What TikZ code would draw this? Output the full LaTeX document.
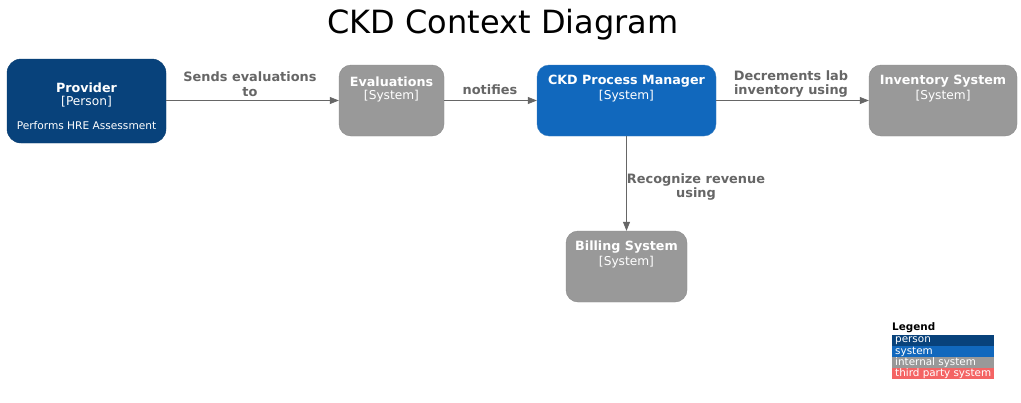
\documentclass[tikz,border=0pt]{standalone}
\usepackage{fontspec}
\setmainfont{DejaVu Sans}
\usetikzlibrary{arrows.meta, calc, positioning}
\definecolor{personblue}{HTML}{08427B}
\definecolor{personline}{HTML}{073B6F}
\definecolor{sysblue}{HTML}{1168BD}
\definecolor{sysline}{HTML}{3C7FC0}
\definecolor{intgray}{HTML}{999999}
\definecolor{intline}{HTML}{8A8A8A}
\definecolor{thirdred}{HTML}{F46464}
\definecolor{relgray}{HTML}{666666}
\tikzset{
  personbox/.style={draw=personline, fill=personblue, rounded corners=14pt, minimum width=159pt, minimum height=84pt, inner sep=0pt},
  sysbox/.style={draw=sysline, fill=sysblue, rounded corners=12pt, minimum height=71pt, inner sep=0pt},
  intbox/.style={draw=intline, fill=intgray, rounded corners=12pt, minimum height=71pt, inner sep=0pt},
  boxtitle/.style={text=white, font=\fontsize{12.7}{14}\selectfont\bfseries, inner sep=0pt},
  boxtype/.style={text=white, font=\fontsize{12.2}{14}\selectfont, inner sep=0pt},
  boxnote/.style={text=white, font=\fontsize{10.6}{12}\selectfont, inner sep=0pt},
  rel/.style={draw=relgray, line width=0.8pt, -{Triangle[length=9pt,width=7pt]}},
  rellabel/.style={text=relgray, font=\fontsize{12.9}{14.5}\selectfont\bfseries, align=center, inner sep=0pt},
  legendbar/.style={anchor=north west, minimum width=102pt, minimum height=10.5pt, inner sep=0pt},
  legendtext/.style={text=white, font=\fontsize{10.4}{10}\selectfont, anchor=west, inner sep=0pt}
}
\begin{document}
\begin{tikzpicture}[x=1pt, y=-1pt]
  \useasboundingbox[fill=white] (0,0) rectangle (1021,402);
  % title
  \node[font=\fontsize{32}{34}\selectfont] (title) at (503,25) {CKD Context Diagram};

  % boxes
  \node[personbox] (provider) at (86.5,101) {};
  \node[intbox, minimum width=105pt] (evals) at (391.5,100.5) {};
  \node[sysbox, minimum width=179pt] (ckd) at (626.5,100.5) {};
  \node[intbox, minimum width=148pt] (inventory) at (943,100.5) {};
  \node[intbox, minimum width=121pt] (billing) at (626.5,266.5) {};

  % box texts
  \node[boxtitle] (providername) at ($(provider.north)+(0,28.5)$) {Provider};
  \node[boxtype] (providertype) at ($(provider.north)+(0,43)$) {[Person]};
  \node[boxnote] (providernote) at ($(provider.north)+(0,67)$) {Performs HRE Assessment};
  \foreach \sysnode/\sysname in {evals/Evaluations, ckd/CKD Process Manager, inventory/Inventory System, billing/Billing System}{
    \node[boxtitle] (\sysnode name) at ($(\sysnode.north)+(0,16.5)$) {\sysname};
    \node[boxtype] (\sysnode type) at ($(\sysnode.north)+(0,31)$) {[System]};
  }

  % relations
  \draw[rel] (provider.east |- evals.west) -- (evals.west);
  \draw[rel] (evals) -- (ckd);
  \draw[rel] (ckd) -- (inventory);
  \draw[rel] (ckd) -- (billing);
  \node[rellabel] (sendslabel) at (250,84) {Sends evaluations\\to};
  \node[rellabel] (notifieslabel) at (490,90) {notifies};
  \node[rellabel] (decrementslabel) at (791,84) {Decrements lab\\inventory using};
  \node[rellabel] (revenuelabel) at (696,187) {Recognize revenue\\using};

  % legend
  \node[font=\fontsize{10.4}{10}\selectfont\bfseries, anchor=west, inner sep=0pt] (legendtitle) at (892,328) {Legend};
  \node[legendbar, fill=personblue] (legperson) at (892,335) {};
  \node[legendbar, fill=sysblue] (legsystem) at (892,346) {};
  \node[legendbar, fill=intgray] (legint) at (892,357) {};
  \node[legendbar, fill=thirdred] (legthird) at (892,368) {};
  \node[legendtext] at ($(legperson.west)+(3,0)$) {person};
  \node[legendtext] at ($(legsystem.west)+(3,0)$) {system};
  \node[legendtext] at ($(legint.west)+(3,0)$) {internal system};
  \node[legendtext] at ($(legthird.west)+(3,0)$) {third party system};
\end{tikzpicture}
\end{document}
